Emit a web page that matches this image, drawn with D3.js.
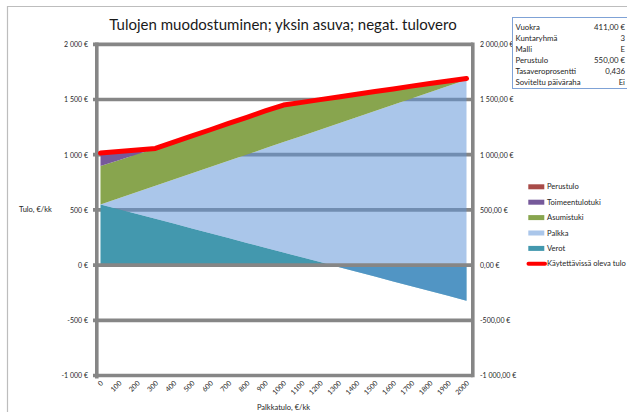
<!DOCTYPE html>
<html>
<head>
<meta charset="utf-8">
<script src="https://cdn.jsdelivr.net/npm/d3@7/dist/d3.min.js"></script>
<style>
  html, body { margin: 0; padding: 0; background: #fff; }
  svg { display: block; }
  text { font-family: Lato, "Open Sans", sans-serif; fill: #262626; }
</style>
</head>
<body>
<svg id="chart" width="627" height="412"></svg>
<script>
// Palkkatulo, €/kk (x categories)
const categories = [0,100,200,300,400,500,600,700,800,900,1000,1100,1200,1300,1400,1500,1600,1700,1800,1900,2000];

// Stacked series, €/kk (bottom to top)
const verot          = [550,506,463,419,376,332,288,245,201,158,114,70,27,-17,-60,-104,-148,-191,-235,-278,-322];
const palkka         = [0,100,200,300,400,500,600,700,800,900,1000,1100,1200,1300,1400,1500,1600,1700,1800,1900,2000];
const asumistuki     = [347,343,340,338,338,338,338,338,338,338,336,304,272,240,208,176,144,112,80,45,0];
const toimeentulotuki= [118,80,40,0,0,0,0,0,0,0,0,0,0,0,0,0,0,0,0,0,0];
const perustulo      = [0,0,0,0,0,0,0,0,0,0,0,0,0,0,0,0,0,0,0,0,0];

// Line series
const kaytettavissa  = [1015,1029,1043,1057,1114,1170,1226,1283,1339,1396,1450,1474,1499,1523,1548,1572,1596,1621,1645,1667,1690];

// Axis ticks
const yTicks = [-1000,-500,0,500,1000,1500,2000];

// Info box rows
const infoLabels = ["Vuokra","Kuntaryhmä","Malli","Perustulo","Tasaveroprosentti","Soviteltu päiväraha"];
const infoValues = ["411,00 €","3","E","550,00 €","0,436","Ei"];

const legendNames = ["Perustulo","Toimeentulotuki","Asumistuki","Palkka","Verot","Käytettävissä oleva tulo"];

const stackKeys = ["Verot","Palkka","Asumistuki","Toimeentulotuki","Perustulo"];
const seriesData = { Verot: verot, Palkka: palkka, Asumistuki: asumistuki, Toimeentulotuki: toimeentulotuki, Perustulo: perustulo };
const styles = {
  Verot:           { fill: "#4398ae", opacity: 1 },
  Palkka:          { fill: "rgb(94,147,215)", opacity: 0.53 },
  Asumistuki:      { fill: "#88a54e", opacity: 1 },
  Toimeentulotuki: { fill: "#76599a", opacity: 1 },
  Perustulo:       { fill: "#a84b48", opacity: 1 }
};

const rows = categories.map((c, i) => {
  const r = { x: c };
  stackKeys.forEach(k => r[k] = seriesData[k][i]);
  return r;
});

const fi = d3.formatLocale({ decimal: ",", thousands: " ", grouping: [3], currency: ["", " €"], minus: "-" });
const fmtLeft = v => fi.format(",.0f")(v) + " €";
const fmtRight = v => fi.format(",.2f")(v) + " €";

const svg = d3.select("#chart");

const x = d3.scaleLinear().domain([0, 2000]).range([100.5, 466.5]);
const y = d3.scaleLinear().domain([-1000, 2000]).range([375.5, 44.3]);

const axisGrey = "#868686";
const axisLeftX = 96.8, axisRightX = 472.8;

// outer chart frame
svg.append("path")
  .attr("d", "M7.5,420 V6.5 H640")
  .attr("fill", "none").attr("stroke", "#bdbdbd").attr("stroke-width", 1.2);

// title
svg.append("text")
  .attr("x", 283).attr("y", 29.5)
  .attr("text-anchor", "middle")
  .style("font-size", "15px").style("fill", "#1a1a1a")
  .text("Tulojen muodostuminen; yksin asuva; negat. tulovero");

// horizontal gridlines (under the areas, except the zero line)
svg.append("g").selectAll("line")
  .data(yTicks.filter(v => v !== 0))
  .join("line")
  .attr("x1", 93).attr("x2", axisRightX)
  .attr("y1", d => y(d)).attr("y2", d => y(d))
  .attr("stroke", axisGrey).attr("stroke-width", 3.7);

// stacked areas
const stack = d3.stack().keys(stackKeys).offset(d3.stackOffsetNone);
const stacked = stack(rows);
const area = d3.area()
  .x(d => x(d.data.x))
  .y0(d => y(d[0]))
  .y1(d => y(d[1]));

svg.append("g").selectAll("path")
  .data(stacked)
  .join("path")
  .attr("d", area)
  .attr("fill", d => styles[d.key].fill)
  .attr("fill-opacity", d => styles[d.key].opacity);

// zero line over the areas
svg.append("line")
  .attr("x1", 93).attr("x2", axisRightX)
  .attr("y1", y(0)).attr("y2", y(0))
  .attr("stroke", axisGrey).attr("stroke-width", 3.7);

// vertical axis lines
svg.append("line")
  .attr("x1", axisLeftX).attr("x2", axisLeftX)
  .attr("y1", y(2000) - 1.8).attr("y2", 378.5)
  .attr("stroke", axisGrey).attr("stroke-width", 3.6);
svg.append("line")
  .attr("x1", axisRightX).attr("x2", axisRightX)
  .attr("y1", y(2000) - 1.8).attr("y2", y(-1000) + 1.8)
  .attr("stroke", axisGrey).attr("stroke-width", 3.6);

// disposable income line
const line = d3.line()
  .x((d, i) => x(categories[i]))
  .y(d => y(d));
svg.append("path")
  .datum(kaytettavissa)
  .attr("d", line)
  .attr("fill", "none")
  .attr("stroke", "#ff0000")
  .attr("stroke-width", 5)
  .attr("stroke-linejoin", "round")
  .attr("stroke-linecap", "round");

// left axis labels
const leftAxis = d3.axisLeft(y).tickValues(yTicks).tickFormat(fmtLeft).tickSize(0).tickPadding(0);
const gl = svg.append("g").attr("transform", "translate(88,0)").call(leftAxis);
gl.select(".domain").remove();
gl.selectAll("text").style("font-size", "7px").style("font-family", "Lato, sans-serif").attr("fill", "#333").attr("dy", "0.35em");

// right axis labels
const rightAxis = d3.axisRight(y).tickValues(yTicks).tickFormat(fmtRight).tickSize(0).tickPadding(0);
const gr = svg.append("g").attr("transform", "translate(480,0)").call(rightAxis);
gr.select(".domain").remove();
gr.selectAll("text").style("font-size", "7px").style("font-family", "Lato, sans-serif").attr("fill", "#333").attr("dy", "0.35em");

// x axis labels, rotated
const gx = svg.append("g");
gx.selectAll("text")
  .data(categories)
  .join("text")
  .attr("transform", d => `translate(${x(d) + 1.5},382) rotate(-45)`)
  .attr("text-anchor", "end")
  .attr("dy", "0.35em")
  .style("font-size", "7px")
  .attr("fill", "#333")
  .text(d => d);

// axis titles
svg.append("text")
  .attr("x", 19).attr("y", 212)
  .style("font-size", "7.5px").attr("fill", "#333")
  .text("Tulo, €/kk");
svg.append("text")
  .attr("x", 283.5).attr("y", 410)
  .attr("text-anchor", "middle")
  .style("font-size", "7.5px").attr("fill", "#333")
  .text("Palkkatulo, €/kk");

// info box
const box = svg.append("g");
box.append("rect")
  .attr("x", 512.5).attr("y", 17.5).attr("width", 140).attr("height", 71)
  .attr("fill", "#fff").attr("stroke", "#7fa2d6").attr("stroke-width", 1);
box.selectAll("text.lbl")
  .data(infoLabels)
  .join("text").attr("class", "lbl")
  .attr("x", 515.5).attr("y", (d, i) => 27.7 + i * 10.85)
  .attr("dy", "0.35em")
  .style("font-size", "7.8px").attr("fill", "#1a1a1a")
  .text(d => d);
box.selectAll("text.val")
  .data(infoValues)
  .join("text").attr("class", "val")
  .attr("x", 625).attr("y", (d, i) => 27.7 + i * 10.85)
  .attr("dy", "0.35em")
  .attr("text-anchor", "end")
  .style("font-size", "7.8px").attr("fill", "#1a1a1a")
  .text(d => d);

// legend
const legendColors = {
  "Perustulo": styles.Perustulo, "Toimeentulotuki": styles.Toimeentulotuki,
  "Asumistuki": styles.Asumistuki, "Palkka": styles.Palkka, "Verot": styles.Verot
};
const lg = svg.append("g");
const legendY = i => 186.8 + i * 15.4;
legendNames.forEach((name, i) => {
  if (legendColors[name]) {
    lg.append("rect")
      .attr("x", 528.3).attr("y", legendY(i) - 2.5).attr("width", 16).attr("height", 5)
      .attr("fill", legendColors[name].fill)
      .attr("fill-opacity", legendColors[name].opacity);
  } else {
    lg.append("line")
      .attr("x1", 528.5).attr("x2", 545).attr("y1", legendY(i)).attr("y2", legendY(i))
      .attr("stroke", "#ff0000").attr("stroke-width", 4).attr("stroke-linecap", "round");
  }
  lg.append("text")
    .attr("x", 547).attr("y", legendY(i)).attr("dy", "0.35em")
    .style("font-size", "7.6px").attr("fill", "#1a1a1a")
    .text(name);
});
</script>
</body>
</html>
